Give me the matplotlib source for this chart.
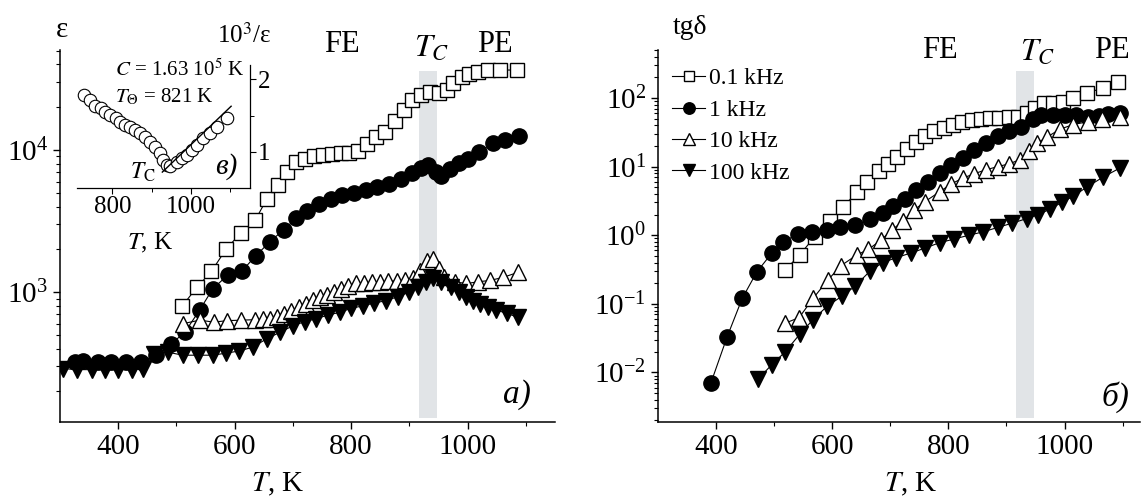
import matplotlib
matplotlib.use("Agg")
import matplotlib.pyplot as plt
from matplotlib.ticker import FixedLocator

plt.rcParams["font.family"] = "serif"
plt.rcParams["font.serif"] = ["Liberation Serif", "DejaVu Serif"]
plt.rcParams["mathtext.fontset"] = "stix"

# ---- permittivity (left panel) ----
eps_T_01 = [510, 535, 560, 585, 610, 635, 655, 675, 690, 705, 720, 737, 752, 767, 782, 797,
            812, 828, 843, 858, 875, 890, 905, 920, 935, 950, 965, 975, 990, 1003, 1018,
            1035, 1055, 1084]
eps_01 = [800, 1080, 1400, 2000, 2600, 3200, 4500, 5700, 7000, 8200, 8700, 9000, 9200, 9400,
          9500, 9500, 9800, 11000, 12300, 13300, 16000, 19000, 22500, 24400, 25500, 25000,
          26500, 29500, 32500, 34000, 35500, 36500, 36500, 36500]

eps_T_1 = [325, 340, 365, 388, 413, 439, 465, 490, 514, 540, 562, 588, 612, 636, 660, 684,
           706, 725, 745, 765, 785, 805, 825, 845, 865, 885, 905, 920, 932, 945, 955, 970,
           985, 1000, 1020, 1043, 1065, 1088]
eps_1 = [325, 330, 320, 322, 320, 325, 360, 430, 520, 750, 1050, 1320, 1400, 1800, 2250, 2750,
         3300, 3750, 4150, 4500, 4800, 5000, 5200, 5450, 5750, 6200, 6900, 7500, 7900, 7000,
         6600, 7300, 8100, 8700, 9700, 11200, 11800, 12600]

eps_T_10 = [511, 540, 564, 587, 611, 635, 648, 660, 672, 685, 697, 710, 722, 734, 746, 758,
            770, 782, 795, 808, 822, 836, 850, 864, 878, 892, 906, 918, 930, 940, 950, 960,
            978, 998, 1017, 1039, 1061, 1087]
eps_10 = [600, 635, 615, 630, 635, 640, 645, 650, 665, 700, 740, 790, 830, 880, 920, 960,
          1010, 1060, 1110, 1150, 1160, 1170, 1180, 1190, 1200, 1210, 1250, 1400, 1650, 1720,
          1450, 1270, 1180, 1150, 1180, 1210, 1270, 1380]

eps_T_100 = [305, 330, 355, 377, 399, 423, 443, 462, 485, 511, 537, 562, 585, 607, 631, 655,
             677, 700, 720, 740, 760, 780, 800, 820, 840, 860, 880, 900, 915, 928, 940, 955,
             972, 985, 998, 1010, 1022, 1035, 1048, 1067, 1086]
eps_100 = [290, 285, 285, 285, 285, 285, 290, 370, 378, 360, 360, 360, 372, 385, 410, 470,
           520, 580, 620, 650, 690, 720, 770, 800, 840, 870, 930, 1000, 1090, 1180, 1260,
           1170, 1085, 1000, 920, 870, 830, 790, 750, 710, 665]

# ---- inset: 10^3/eps ----
inv_T = [727, 744, 757, 770, 782, 795, 808, 820, 833, 846, 858, 871, 884, 896, 909, 922, 929,
         939, 947, 964, 977, 990, 1003, 1015, 1030, 1048, 1066, 1091]
inv_eps = [1.78, 1.71, 1.64, 1.60, 1.55, 1.51, 1.47, 1.41, 1.37, 1.34, 1.30, 1.26, 1.21, 1.14,
           1.07, 0.99, 0.89, 0.82, 0.80, 0.86, 0.92, 0.96, 1.03, 1.10, 1.19, 1.26, 1.34, 1.47]
fit_T = [927, 1102]
fit_inv = [0.72, 1.63]

# ---- loss tangent (right panel) ----
tg_T_01 = [519, 544, 570, 596, 619, 642, 660, 680, 696, 712, 728, 744, 760, 776, 792, 808, 824,
           840, 856, 872, 888, 904, 920, 935, 950, 965, 981, 997, 1015, 1039, 1066, 1092]
tg_01 = [0.31, 0.52, 0.95, 1.6, 2.6, 4.2, 6.0, 8.5, 11, 14, 18, 23, 28, 33, 37, 41, 45, 48, 50,
         51, 51, 52, 53, 60, 72, 85, 85, 87, 100, 118, 140, 173]

tg_T_1 = [391, 419, 445, 470, 496, 515, 541, 565, 591, 613, 639, 665, 687, 705, 725, 745, 765,
          785, 805, 825, 845, 865, 885, 905, 925, 945, 960, 980, 1000, 1020, 1040, 1060, 1075,
          1095]
tg_1 = [0.007, 0.033, 0.12, 0.29, 0.55, 0.79, 1.05, 1.1, 1.2, 1.3, 1.4, 1.7, 2.1, 2.7, 3.4, 4.6,
        6.0, 8.0, 10.5, 13.5, 17.5, 22, 28, 33, 38, 50, 57, 57, 57, 57, 52, 55, 58, 61]

tg_T_10 = [518, 543, 567, 592, 615, 643, 662, 684, 703, 722, 740, 760, 785, 805, 825, 845, 865,
           885, 905, 923, 938, 953, 970, 992, 1015, 1040, 1065, 1095]
tg_10 = [0.052, 0.063, 0.12, 0.22, 0.36, 0.52, 0.62, 0.85, 1.2, 1.6, 2.3, 3.1, 4.3, 5.6, 6.8,
         7.9, 9.0, 10, 11, 12.6, 17, 22, 27, 35, 41, 45, 49, 53]

tg_T_100 = [472, 496, 519, 544, 567, 591, 617, 639, 665, 687, 710, 735, 760, 785, 810, 835, 860,
            885, 910, 935, 955, 975, 995, 1015, 1038, 1066, 1095]
tg_100 = [0.008, 0.013, 0.02, 0.036, 0.059, 0.092, 0.13, 0.18, 0.30, 0.40, 0.47, 0.55, 0.65,
          0.78, 0.88, 1.0, 1.12, 1.3, 1.5, 1.75, 2.0, 2.4, 3.0, 3.7, 5.0, 7.0, 9.5]

freq_labels = ["0.1 kHz", "1 kHz", "10 kHz", "100 kHz"]
tc_band = (916, 948)

W, H = 1144, 497
fig = plt.figure(figsize=(W / 100, H / 100), dpi=100)


def px(x, y):
    return x / W, 1 - y / H


styles = [
    dict(marker="s", ms=10, mfc="white", mec="black", mew=1.0),
    dict(marker="o", ms=11, mfc="black", mec="black", mew=1.0),
    dict(marker="^", ms=12, mfc="white", mec="black", mew=1.0),
    dict(marker="v", ms=12, mfc="black", mec="black", mew=1.0),
]


def style_axes(ax):
    for s in ["top", "right"]:
        ax.spines[s].set_visible(False)
    for s in ["left", "bottom"]:
        ax.spines[s].set_linewidth(1.1)
    ax.tick_params(which="major", direction="out", length=5, width=1.0, labelsize=21)
    ax.tick_params(which="minor", direction="out", length=3, width=0.8)
    ax.set_xlim(300, 1150)
    ax.xaxis.set_major_locator(FixedLocator([400, 600, 800, 1000]))
    ax.xaxis.set_minor_locator(FixedLocator([500, 700, 900, 1100]))
    ax.axvspan(*tc_band, ymin=0.01, ymax=0.944, color="#e1e4e7", lw=0, zorder=0)


# left panel
ax1 = fig.add_axes([60 / W, 75 / H, 495 / W, 372 / H])
ax1.set_yscale("log")
style_axes(ax1)
ax1.set_ylim(122, 5.05e4)
eps_sets = [(eps_T_01, eps_01), (eps_T_1, eps_1), (eps_T_10, eps_10), (eps_T_100, eps_100)]
for (t, v), st in zip(eps_sets, styles):
    ax1.plot(t, v, color="black", lw=0.8, **st)

# right panel
ax2 = fig.add_axes([658 / W, 75 / H, 482 / W, 372 / H])
ax2.set_yscale("log")
style_axes(ax2)
ax2.set_xlim(300, 1130)
ax2.set_ylim(1.9e-3, 5e2)
tg_sets = [(tg_T_01, tg_01), (tg_T_1, tg_1), (tg_T_10, tg_10), (tg_T_100, tg_100)]
for (t, v), st, lab in zip(tg_sets, styles, freq_labels):
    ax2.plot(t, v, color="black", lw=0.8, label=lab, **st)
ax2.legend(loc="upper left", bbox_to_anchor=(0.0, 0.99), frameon=False, fontsize=17,
           handlelength=1.4, handletextpad=0.15, labelspacing=0.42, borderaxespad=0.2,
           markerscale=0.75)

# inset
axi = fig.add_axes([77 / W, (H - 188) / H, 173 / W, 123 / H])
axi.patch.set_alpha(0)
axi.spines["top"].set_visible(False)
axi.spines["left"].set_visible(False)
axi.spines["right"].set_linewidth(0.9)
axi.spines["bottom"].set_linewidth(0.9)
axi.yaxis.tick_right()
axi.set_xlim(710, 1150)
axi.set_ylim(0.5, 2.2)
axi.xaxis.set_major_locator(FixedLocator([800, 1000]))
axi.xaxis.set_minor_locator(FixedLocator([900, 1100]))
axi.yaxis.set_major_locator(FixedLocator([1, 2]))
axi.yaxis.set_minor_locator(FixedLocator([1.5]))
axi.tick_params(which="major", direction="out", length=4, width=0.8, labelsize=18, pad=2)
axi.tick_params(which="minor", direction="out", length=3, width=0.7)
axi.plot(inv_T, inv_eps, ls="none", marker="o", ms=9, mfc="white", mec="black", mew=0.8)
axi.plot(fit_T, fit_inv, color="black", lw=1.0)

# labels
fig.text(*px(62, 30), "ε", fontsize=21, ha="center", va="center")
fig.text(*px(244, 35), "10$^3$/ε", fontsize=18, ha="center", va="center")
fig.text(*px(115, 70), "$C$ = 1.63 10$^5$ K", fontsize=15, ha="left", va="center")
fig.text(*px(115, 97), "$T_\\Theta$ = 821 K", fontsize=15, ha="left", va="center")
fig.text(*px(143, 172), "$T_\\mathrm{C}$", fontsize=17, ha="center", va="center")
fig.text(*px(226, 167), "в)", fontsize=21, style="italic", ha="center", va="center")
fig.text(*px(150, 243), "$T$, K", fontsize=18, ha="center", va="center")

fig.text(*px(690, 28), "tgδ", fontsize=20, ha="center", va="center")

for fe, tc, pe in [((342, 45), (432, 48), (495, 45)), ((940, 50), (1038, 52), (1112, 50))]:
    fig.text(*px(*fe), "FE", fontsize=22, ha="center", va="center")
    fig.text(*px(*tc), "$T_C$", fontsize=23, ha="center", va="center")
    fig.text(*px(*pe), "PE", fontsize=22, ha="center", va="center")

fig.text(*px(517, 395), "a)", fontsize=24, style="italic", ha="center", va="center")
fig.text(*px(1115, 397), "б)", fontsize=24, style="italic", ha="center", va="center")
fig.text(*px(278, 484), "$T$, K", fontsize=21, ha="center", va="center")
fig.text(*px(911, 484), "$T$, K", fontsize=21, ha="center", va="center")

fig.savefig("out.png", dpi=100)
